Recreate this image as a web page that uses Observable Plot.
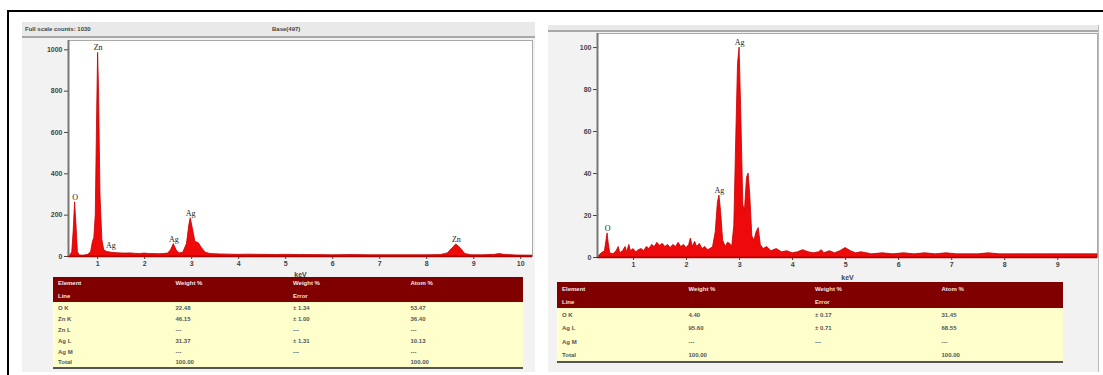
<!DOCTYPE html>
<html>
<head>
<meta charset="utf-8">
<script src="https://cdn.jsdelivr.net/npm/d3@7"></script>
<script src="https://cdn.jsdelivr.net/npm/@observablehq/plot@0.6"></script>
<style>
  html, body { margin: 0; padding: 0; background: #fff; }
  #page { position: relative; width: 1103px; height: 375px; overflow: hidden; font-family: "Liberation Sans", Arial, sans-serif; }
  .frameTop { position: absolute; left: 7px; top: 10px; width: 1096px; height: 2px; background: #000; }
  .frameLeft { position: absolute; left: 7px; top: 10px; width: 2px; height: 365px; background: #000; }
  .panel { position: absolute; background: #f2f2f2; }
  .hdr { position: absolute; background: #e9e9e9; border-bottom: 2px solid #a8a8a8; font-size: 6px; font-weight: bold; color: #444; }
  .hdr span { position: absolute; top: 4px; }
  .plot { position: absolute; }
  table.edx { position: absolute; border-collapse: collapse; table-layout: fixed; font-size: 6px; font-weight: bold; }
  table.edx th { background: #800000; color: #f4e6e6; text-align: left; font-weight: bold; padding: 0 0 0 5px; }
  table.edx td { background: #ffffcc; color: #555; text-align: left; padding: 0 0 0 5px; }
  table.edx tr.last td { border-bottom: 2px solid #555; }
</style>
</head>
<body>
<div id="page">
  <div class="frameTop"></div>
  <div class="frameLeft"></div>
  <div class="panel" style="left:22px;top:22px;width:513px;height:350px;"></div>
  <div class="hdr" style="left:22px;top:22px;width:513px;height:14px;"><span style="left:3px">Full scale counts: 1030</span><span style="left:250px">Base(497)</span></div>
  <div class="panel" style="left:548px;top:25px;width:550px;height:347px;border-right:1px solid #bbb;"></div>
  <div class="hdr" style="left:548px;top:25px;width:550px;height:5px;"></div>
  <div id="leftPlot" class="plot" style="left:22px;top:38px;"></div>
  <div id="rightPlot" class="plot" style="left:548px;top:31px;"></div>
  <div id="leftTable"></div>
  <div id="rightTable"></div>
</div>
<script>
// ---------- Left spectrum (ZnO/Ag) ----------
const leftEnergy = [0.38,0.42,0.46,0.49,0.52,0.55,0.58,0.62,0.70,0.80,0.86,0.90,0.93,0.96,0.99,1.01,1.03,1.06,1.10,1.14,1.20,1.30,1.40,1.50,1.60,1.70,1.80,1.90,2.00,2.10,2.20,2.30,2.40,2.50,2.56,2.62,2.68,2.74,2.82,2.90,2.95,2.98,3.02,3.08,3.15,3.22,3.30,3.40,3.60,3.80,4.00,4.20,4.50,4.80,5.00,5.30,5.60,6.00,6.40,6.80,7.20,7.60,8.00,8.30,8.45,8.55,8.63,8.72,8.82,8.95,9.20,9.45,9.55,9.65,9.90,10.25];
const leftCounts = [0,5,20,120,262,150,20,5,4,8,20,70,90,200,700,985,800,300,80,30,22,18,16,15,14,15,13,12,14,12,12,11,12,14,30,60,30,15,18,60,150,185,140,70,65,40,18,12,10,9,8,9,8,7,8,7,7,6,7,6,6,6,6,7,15,40,58,40,12,6,6,8,12,8,5,4];
const leftPeakNames = ["O","Zn","Ag","Ag","Ag","Zn"];
const leftPeakEnergy = [0.52,1.01,1.28,2.62,2.98,8.63];
const leftPeakCounts = [262,985,30,60,185,58];
const leftXTicks = [1,2,3,4,5,6,7,8,9,10];
const leftYTicks = [0,200,400,600,800,1000];

// ---------- Right spectrum (Ag) ----------
const rightEnergy = [0.32,0.40,0.46,0.49,0.51,0.53,0.56,0.62,0.68,0.72,0.75,0.80,0.85,0.88,0.92,0.95,1.00,1.05,1.10,1.15,1.20,1.25,1.30,1.35,1.40,1.45,1.50,1.55,1.60,1.65,1.70,1.75,1.80,1.85,1.90,1.95,2.00,2.05,2.08,2.12,2.16,2.20,2.25,2.30,2.35,2.40,2.45,2.50,2.55,2.59,2.62,2.65,2.69,2.74,2.78,2.82,2.86,2.90,2.94,2.97,3.00,3.03,3.07,3.10,3.14,3.17,3.20,3.24,3.28,3.32,3.36,3.40,3.45,3.52,3.60,3.70,3.80,3.90,4.00,4.10,4.20,4.30,4.40,4.50,4.55,4.60,4.70,4.80,4.90,5.00,5.10,5.20,5.30,5.50,5.70,5.90,6.10,6.30,6.50,6.70,6.90,7.10,7.30,7.50,7.70,7.90,8.10,8.40,8.70,9.00,9.30,9.60,9.75];
const rightCounts = [0,2,3,8,11.5,7,2,1.5,3,5,2,3,5,2.5,6,3,4,2.5,3.5,4,3,5,4,6,5,7,5.5,6.5,5,6,4.5,6,5,7,5,6,4.5,6,9,5,7.5,5,6.5,4,5,3.5,4,5,12,26,29.5,22,8,5,7,6.5,5,15,60,92,100,70,25,22,38,40,30,10,8,12,14,6,4,5,3,4,2.5,3,2,2.5,3.5,2.5,2,2.5,3.5,2,3,2,3,4.5,3,2,2.5,1.5,2,1.5,2,1.5,2,1.5,2,1.5,1.5,1.5,2,1.5,1.5,1.5,1.5,1.5,1.5,1.5,1.5];
const rightPeakNames = ["O","Ag","Ag"];
const rightPeakEnergy = [0.51,2.62,3.0];
const rightPeakCounts = [11.5,29.5,100];
const rightXTicks = [1,2,3,4,5,6,7,8,9];
const rightYTicks = [0,20,40,60,80,100];

// ---------- Tables ----------
const tableHeader1 = ["Element","Weight %","Weight %","Atom %"];
const tableHeader2 = ["Line","","Error",""];
const leftElements = ["O K","Zn K","Zn L","Ag L","Ag M","Total"];
const leftWeight = ["22.48","46.15","---","31.37","---","100.00"];
const leftError = ["± 1.34","± 1.00","---","± 1.31","---",""];
const leftAtom = ["53.47","36.40","---","10.13","---","100.00"];
const rightElements = ["O K","Ag L","Ag M","Total"];
const rightWeight = ["4.40","95.60","---","100.00"];
const rightError = ["± 0.17","± 0.71","---",""];
const rightAtom = ["31.45","68.55","---","100.00"];

function spectrum(el, opts) {
  const data = opts.energy.map((e, i) => ({e, c: opts.counts[i]}));
  const peaks = opts.peakNames.map((n, i) => ({n, e: opts.peakEnergy[i], c: opts.peakCounts[i]}));
  const chart = Plot.plot({
    width: opts.width, height: opts.height,
    marginLeft: opts.ml, marginRight: opts.mr, marginTop: opts.mt, marginBottom: opts.mb,
    style: {background: "transparent", fontFamily: "Liberation Sans, Arial, sans-serif", fontSize: "7px", fontWeight: "bold", color: "#444"},
    x: {domain: opts.xDomain, ticks: opts.xTicks, tickSize: 3, tickPadding: 2, label: "keV", labelAnchor: "center", labelOffset: opts.labelOffset, labelArrow: "none", tickFormat: d3.format("d")},
    y: {domain: opts.yDomain, ticks: opts.yTicks, tickSize: 4, tickPadding: 2, label: null, tickFormat: d3.format("d")},
    marks: [
      Plot.frame({fill: "#fff", stroke: "#aaa"}),
      Plot.areaY(data, {x: "e", y: "c", fill: "#ee0a0a", stroke: "#c40000", strokeWidth: 0.8}),
      Plot.ruleY([0], {stroke: "#b00000", strokeWidth: 1.5}),
      Plot.ruleX([opts.xDomain[0]], {stroke: "#777", strokeWidth: 2}),
      Plot.text(peaks, {x: "e", y: "c", text: "n", dy: -5, fontSize: 8, fontFamily: "Liberation Serif, serif", fontWeight: "normal", fill: "#222"})
    ]
  });
  document.getElementById(el).appendChild(chart);
}

spectrum("leftPlot", {
  energy: leftEnergy, counts: leftCounts,
  peakNames: leftPeakNames, peakEnergy: leftPeakEnergy, peakCounts: leftPeakCounts,
  width: 513, height: 244, ml: 46, mr: 3, mt: 2, mb: 26,
  xDomain: [0.38, 10.25], yDomain: [0, 1045], xTicks: leftXTicks, yTicks: leftYTicks, labelOffset: 20
});
spectrum("rightPlot", {
  energy: rightEnergy, counts: rightCounts,
  peakNames: rightPeakNames, peakEnergy: rightPeakEnergy, peakCounts: rightPeakCounts,
  width: 550, height: 258, ml: 49, mr: 1, mt: 2, mb: 32,
  xDomain: [0.32, 9.75], yDomain: [0, 106.7], xTicks: rightXTicks, yTicks: rightYTicks, labelOffset: 22
});

function table(el, left, top, width, hRow, bRow, elements, weight, error, atom) {
  const t = document.createElement("table");
  t.className = "edx";
  t.style.left = left + "px"; t.style.top = top + "px"; t.style.width = width + "px";
  let html = "<colgroup>" + tableHeader1.map(() => `<col style="width:${width/4}px">`).join("") + "</colgroup>";
  html += `<tr style="height:${hRow}px">` + tableHeader1.map(h => `<th>${h}</th>`).join("") + "</tr>";
  html += `<tr style="height:${hRow}px">` + tableHeader2.map(h => `<th>${h}</th>`).join("") + "</tr>";
  elements.forEach((e, i) => {
    html += `<tr style="height:${bRow}px" class="${i === elements.length - 1 ? "last" : ""}"><td>${e}</td><td>${weight[i]}</td><td>${error[i]}</td><td>${atom[i]}</td></tr>`;
  });
  t.innerHTML = html;
  document.getElementById(el).appendChild(t);
}
table("leftTable", 53, 277, 470, 12.5, 11, leftElements, leftWeight, leftError, leftAtom);
table("rightTable", 557, 282, 506, 13, 13.5, rightElements, rightWeight, rightError, rightAtom);
</script>
</body>
</html>
